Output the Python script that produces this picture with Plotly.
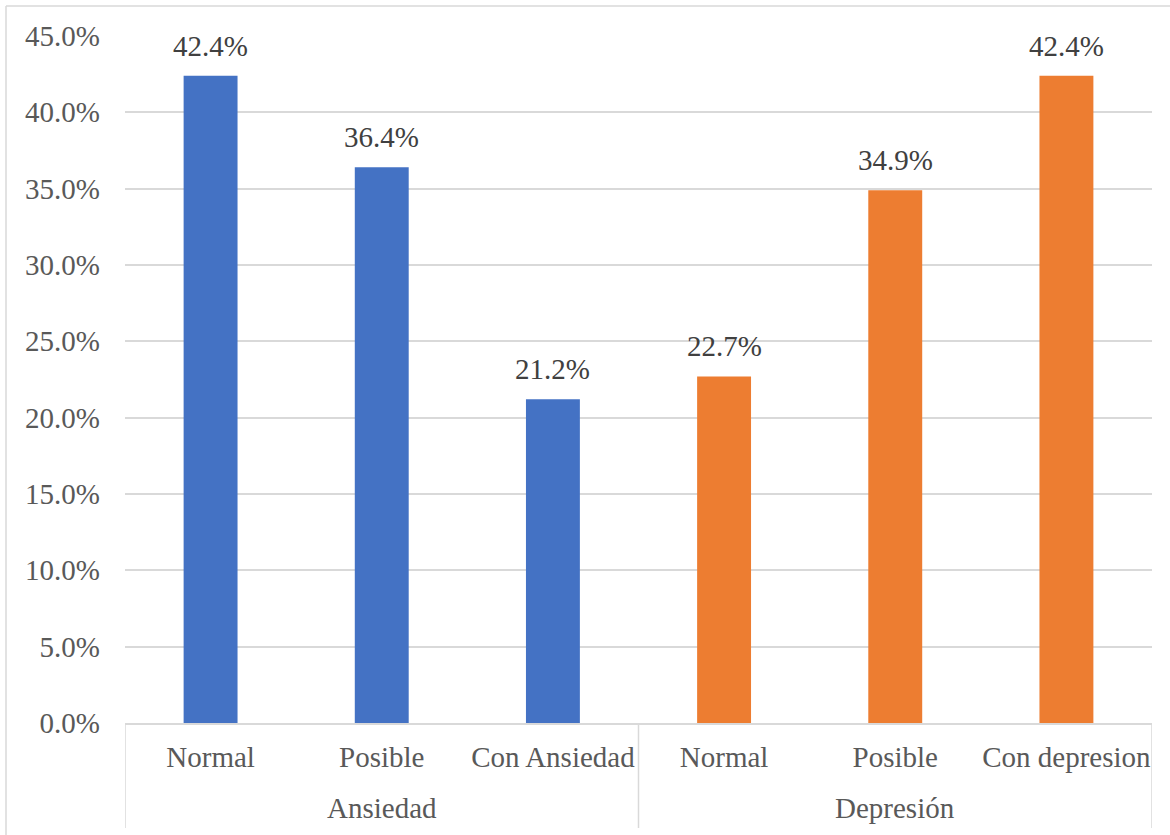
import plotly.graph_objects as go

groups = ["Ansiedad", "Depresión"]
group_members = [[0, 1, 2], [3, 4, 5]]
categories = ["Normal", "Posible", "Con Ansiedad", "Normal", "Posible", "Con depresion"]
values = [42.4, 36.4, 21.2, 22.7, 34.9, 42.4]
colors = ["#4472C4"] * 3 + ["#ED7D31"] * 3
y_ticks = [0, 5, 10, 15, 20, 25, 30, 35, 40, 45]
y_tick_text = [f"{v:.1f}%" for v in y_ticks]

FONT = "Liberation Serif, Times New Roman, serif"
FS = 29
GRID = "#D9D9D9"

positions = list(range(len(categories)))

fig = go.Figure()
fig.add_trace(go.Bar(
    x=positions,
    y=values,
    width=0.315,
    marker=dict(color=colors, line=dict(width=0)),
    hoverinfo="skip",
))

# data labels above bars
for xp, v in zip(positions, values):
    fig.add_annotation(
        x=xp, y=v, xref="x", yref="y",
        text=f"{v:.1f}%", showarrow=False,
        yanchor="bottom", yshift=12,
        font=dict(family=FONT, size=FS, color="#404040"),
    )

L, R, T, B = 125, 18, 36, 112
W, H = 1170, 835
pw, ph = W - L - R, H - T - B

fig.update_layout(
    width=W, height=H,
    margin=dict(l=L, r=R, t=T, b=B, pad=0),
    paper_bgcolor="white", plot_bgcolor="white",
    showlegend=False,
    font=dict(family=FONT, size=FS, color="#595959"),
    xaxis=dict(
        range=[-0.5, len(categories) - 0.5],
        tickvals=positions, ticktext=categories,
        showline=True, linecolor=GRID, linewidth=1.5,
        tickfont=dict(family=FONT, size=FS, color="#595959"),
        showgrid=False, zeroline=False, ticks="",
        ticklabelstandoff=7,
    ),
    yaxis=dict(
        range=[0, 45],
        tickvals=y_ticks, ticktext=y_tick_text,
        showgrid=True, gridcolor=GRID, gridwidth=1.5,
        zeroline=False, showline=False, ticks="",
        ticklabelstandoff=24,
        tickfont=dict(family=FONT, size=FS, color="#595959"),
    ),
)

# group labels and dividers below the category labels
div_bottom = -(828 - (H - B)) / ph
label_y = -(808 - (H - B)) / ph
for name, members in zip(groups, group_members):
    fig.add_annotation(
        x=sum(members) / len(members), xref="x",
        y=label_y, yref="paper", yanchor="middle",
        text=name, showarrow=False,
        font=dict(family=FONT, size=FS, color="#595959"),
    )
dividers = [group_members[0][0] - 0.5] + [m[-1] + 0.5 for m in group_members]
for xd in dividers:
    fig.add_shape(type="line", xref="x", yref="paper",
                  x0=xd, x1=xd, y0=0, y1=div_bottom,
                  line=dict(color=GRID, width=1.5))

# outer chart border (top and left edges visible in the reference)
fig.add_shape(type="line", xref="paper", yref="paper",
              x0=(6 - L) / pw, x1=(W - L) / pw,
              y0=1 + (T - 6) / ph, y1=1 + (T - 6) / ph,
              line=dict(color=GRID, width=1.5))
fig.add_shape(type="line", xref="paper", yref="paper",
              x0=(6 - L) / pw, x1=(6 - L) / pw,
              y0=1 + (T - 6) / ph, y1=-(B) / ph,
              line=dict(color=GRID, width=1.5))

fig.write_html("out.html")
